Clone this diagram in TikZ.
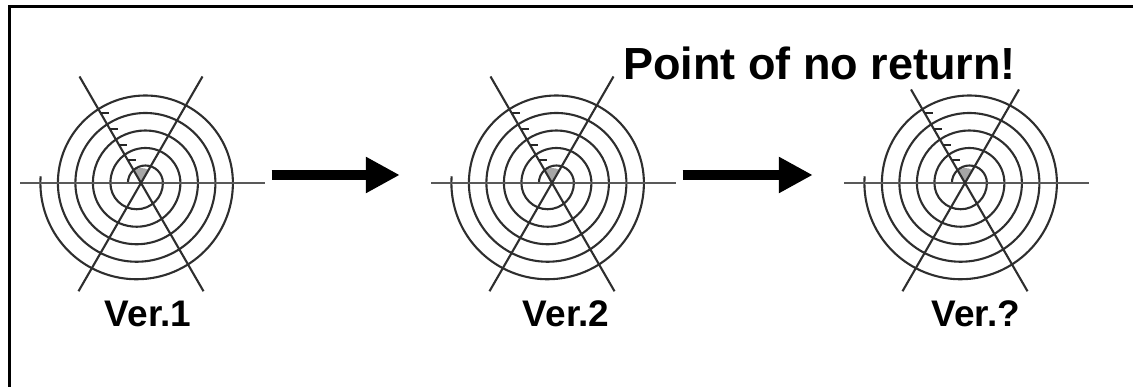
\documentclass[tikz,border=0pt]{standalone}
\usepackage{fontspec}
\setmainfont{Liberation Sans}
\usetikzlibrary{arrows.meta,positioning,calc}

\begin{document}
\begin{tikzpicture}[
    x=1pt, y=1pt,
    >=Triangle,
    webLine/.style={
        draw=black!82,
        line width=2.1pt
    },
    axisLine/.style={
        draw=black!65,
        line width=1.9pt
    },
    tickLine/.style={
        draw=black!85,
        line width=2pt
    },
    frameLine/.style={
        draw=black,
        line width=3pt
    },
    bigArrow/.style={
        -{Triangle[length=34pt,width=34pt]},
        line width=10pt,
        draw=black,
        shorten <=5.5pt,
        shorten >=27pt
    },
    webBox/.style={
        minimum size=250pt,
        inner sep=0pt
    },
    verLabel/.style={
        font=\fontsize{37pt}{40pt}\selectfont\bfseries,
        anchor=base,
        inner sep=0pt
    },
    titleText/.style={
        font=\fontsize{45pt}{50pt}\selectfont\bfseries,
        anchor=base west,
        inner sep=0pt
    },
    web/.pic={
        % grey patch at the hub
        \fill[black!35] (0,0) -- (60:15) arc[start angle=60,end angle=120,radius=15] -- cycle;
        % spiral: upper half-circles round (4.4,0), lower ones round (-4.4,0)
        \draw[webLine] (-13.1,0)
            \foreach \r [evaluate=\r as \rb using \r+8.75] in {17.5,35,52.5,70} {
                arc[start angle=180,end angle=0,radius=\r]
                arc[start angle=0,end angle=-180,radius=\rb]
            }
            arc[start angle=180,end angle=0,radius=87.5]
            arc[start angle=0,end angle=-184,radius=96.25];
        % spokes
        \draw[axisLine] (-121,0) -- (124,0);
        \draw[webLine] (60:\spokeTop) -- (240:125);
        \draw[webLine] (120:\spokeTop) -- (300:125);
        \foreach \d in {26,44,62,81}
            \draw[tickLine] (120:\d) -- ++(8,0);
    }
]
\useasboundingbox (0,0) rectangle (1133,387);

% ==================== FRAME ====================
\draw[frameLine] (9.5,0) -- (9.5,380.5) -- (1133,380.5);

% ==================== WEBS ====================
\foreach \i/\x/\spokeTop in {1/141/123,2/552/123,3/965/108} {
    \node[webBox] (web\i) at (\x,204) {};
    \pic at (web\i) {web};
}

\node[verLabel] (ver1) at (148,60) {Ver.1};
\node[verLabel] (ver2) at (566,60) {Ver.2};
\node[verLabel] (ver3) at (976,60) {Ver.?};

% ==================== ARROWS ====================
\draw[bigArrow] ([yshift=8pt]web1.east) -- ([yshift=8pt]web2.west);
\draw[bigArrow] ([yshift=8pt]web2.east) -- ([yshift=8pt]web3.west);

\node[titleText] (title) at (623,307) {Point of no return!};

\end{tikzpicture}
\end{document}
